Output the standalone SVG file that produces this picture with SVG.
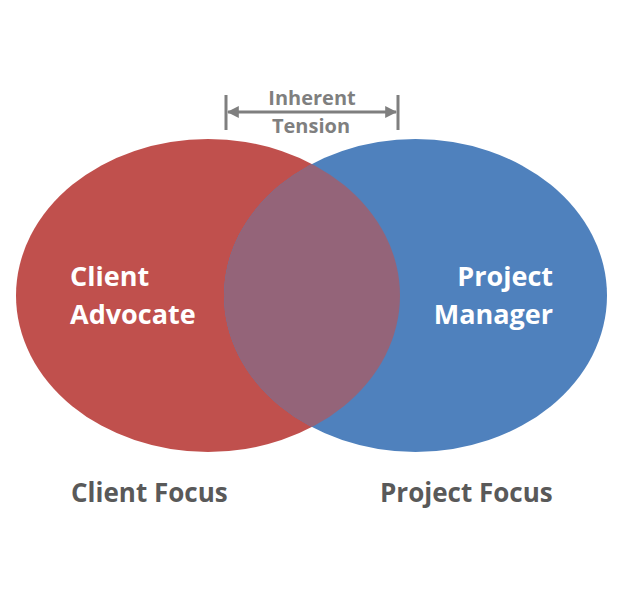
<svg xmlns="http://www.w3.org/2000/svg" width="622" height="595" viewBox="0 0 622 595">
<style>
.lbl{font-family:"Open Sans","Liberation Sans",sans-serif;font-weight:bold;}
.white{fill:#FFFFFF;font-size:27px;}
.foc{fill:#595959;font-size:26px;}
.ten{fill:#7F7F7F;font-size:20px;}
</style>
<defs>
<clipPath id="blueClip"><ellipse cx="415.5" cy="295.5" rx="191.5" ry="156.5"/></clipPath>
<marker id="ah" viewBox="0 0 10 10" refX="9" refY="5" markerWidth="4" markerHeight="4" orient="auto-start-reverse">
<path d="M0,0 L10,5 L0,10 z" fill="#7F7F7F"/>
</marker>
</defs>
<rect width="622" height="595" fill="#FFFFFF"/>
<g id="client-advocate">
<ellipse cx="208" cy="295.5" rx="192" ry="156.5" fill="#C0504D"/>
</g>
<g id="project-manager">
<ellipse cx="415.5" cy="295.5" rx="191.5" ry="156.5" fill="#4F81BD"/>
</g>
<g id="overlap">
<ellipse cx="208" cy="295.5" rx="192" ry="156.5" fill="#946479" clip-path="url(#blueClip)"/>
</g>
<g id="labels">
<text class="lbl white" x="70" y="286">Client</text>
<text class="lbl white" x="70" y="324">Advocate</text>
<text class="lbl white" x="553" y="286" text-anchor="end">Project</text>
<text class="lbl white" x="553" y="324" text-anchor="end">Manager</text>
<text class="lbl foc" x="71" y="502">Client Focus</text>
<text class="lbl foc" x="380" y="502">Project Focus</text>
</g>
<g id="connectors">
<line x1="226" y1="95" x2="226" y2="130" stroke="#7F7F7F" stroke-width="3"/>
<line x1="398" y1="95" x2="398" y2="130" stroke="#7F7F7F" stroke-width="3"/>
<line x1="228" y1="112" x2="396" y2="112" stroke="#7F7F7F" stroke-width="3" marker-start="url(#ah)" marker-end="url(#ah)"/>
</g>
<g id="tension">
<text class="lbl ten" x="312" y="105" text-anchor="middle">Inherent</text>
<text class="lbl ten" x="311" y="133" text-anchor="middle">Tension</text>
</g>
</svg>
